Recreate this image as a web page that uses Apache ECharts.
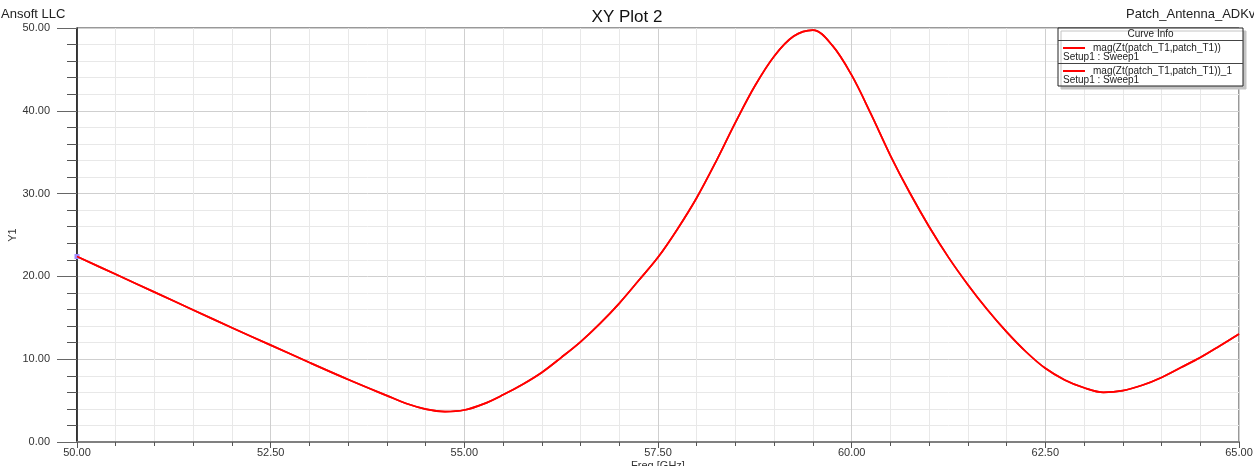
<!DOCTYPE html>
<html>
<head>
<meta charset="utf-8">
<title>XY Plot 2</title>
<script src="https://cdn.jsdelivr.net/npm/echarts@6/dist/echarts.min.js"></script>
<style>
  html, body { margin: 0; padding: 0; background: #fff; }
  #chart { width: 1254px; height: 466px; }
</style>
</head>
<body>
<div id="chart"></div>
<script>
// Frequency sweep (GHz) and |Zt| magnitude
const freqGHz = [
  50.0, 50.5, 51.0, 51.5, 52.0, 52.5, 53.0, 53.5, 54.0, 54.25, 54.5, 54.75,
  55.0, 55.25, 55.5, 55.75, 56.0, 56.25, 56.5, 56.75, 57.0, 57.25, 57.5, 57.75,
  58.0, 58.25, 58.5, 58.75, 59.0, 59.25, 59.5, 59.75, 60.0, 60.25, 60.5, 60.75,
  61.0, 61.25, 61.5, 61.75, 62.0, 62.25, 62.5, 62.75, 63.0, 63.25, 63.5, 63.75,
  64.0, 64.25, 64.5, 64.75, 65.0
];
const magZt = [
  22.4, 20.25, 18.1, 15.95, 13.8, 11.7, 9.6, 7.55, 5.6, 4.65, 3.98, 3.68,
  3.86, 4.6, 5.7, 6.95, 8.4, 10.2, 12.1, 14.3, 16.75, 19.5, 22.3, 25.7,
  29.5, 33.9, 38.6, 43.0, 46.6, 49.0, 49.75, 47.9, 44.3, 39.6, 34.6, 30.1,
  26.0, 22.3, 19.0, 16.0, 13.3, 10.9, 8.9, 7.5, 6.55, 6.0, 6.2, 6.85,
  7.8, 9.0, 10.2, 11.6, 13.05
];
const seriesNames = ['mag(Zt(patch_T1,patch_T1))', 'mag(Zt(patch_T1,patch_T1))_1'];
const sweepLabel = 'Setup1 : Sweep1';
const xTicks = { min: 50, max: 65, step: 2.5 };
const yTicks = { min: 0, max: 50, step: 10 };

const FONT = '"Liberation Sans", Arial, sans-serif';
const chart = echarts.init(document.getElementById('chart'), null, { renderer: 'canvas' });

function curveData(markStart) {
  return freqGHz.map((f, i) => {
    if (markStart && i === 0) {
      return { value: [f, magZt[i]], symbol: 'rect', symbolSize: 5,
               itemStyle: { color: '#a08cff' } };
    }
    return [f, magZt[i]];
  });
}

// Legend box ("Curve Info") drawn as graphics
const boxX = 1058, boxY = 28, boxW = 185, boxH = 58;
const legendGraphics = [
  { type: 'rect', shape: { x: boxX, y: boxY, width: boxW, height: boxH },
    style: { fill: '#fff', stroke: '#222', lineWidth: 1,
             shadowColor: '#c4c4c4', shadowOffsetX: 3, shadowOffsetY: 3 }, z: 100 },
  { type: 'text', x: boxX + boxW / 2, y: 34.5, z: 101,
    style: { text: 'Curve Info', font: '10px ' + FONT, fill: '#222',
             align: 'center', verticalAlign: 'middle' } },
  { type: 'line', shape: { x1: boxX, y1: 40.5, x2: boxX + boxW, y2: 40.5 },
    style: { stroke: '#444', lineWidth: 1 }, z: 101 },
  { type: 'line', shape: { x1: boxX, y1: 63.5, x2: boxX + boxW, y2: 63.5 },
    style: { stroke: '#444', lineWidth: 1 }, z: 101 }
];
seriesNames.forEach((name, k) => {
  const y0 = 48 + k * 23;
  legendGraphics.push(
    { type: 'line', shape: { x1: 1063, y1: y0, x2: 1085, y2: y0 },
      style: { stroke: '#ff0000', lineWidth: 2 }, z: 101 },
    { type: 'text', x: 1093, y: y0 + 0.5, z: 101,
      style: { text: name, font: '10px ' + FONT, fill: '#222',
               align: 'left', verticalAlign: 'middle' } },
    { type: 'text', x: 1063, y: y0 + 9.5, z: 101,
      style: { text: sweepLabel, font: '10px ' + FONT, fill: '#222',
               align: 'left', verticalAlign: 'middle' } }
  );
});

const option = {
  backgroundColor: '#ffffff',
  animation: false,
  textStyle: { fontFamily: FONT },
  grid: {
    left: 77, right: 15, top: 28, bottom: 24, containLabel: false,
    outerBoundsMode: 'none',
    show: true, borderColor: '#333', borderWidth: 1, backgroundColor: 'transparent'
  },
  title: [
    { text: 'XY Plot 2', left: 'center', top: 9, padding: 0,
      textStyle: { fontFamily: FONT, fontSize: 17, fontWeight: 'normal', color: '#111' } },
    { text: 'Ansoft LLC', left: 1, top: 8, padding: 0,
      textStyle: { fontFamily: FONT, fontSize: 13, fontWeight: 'normal', color: '#222' } },
    { text: 'Patch_Antenna_ADKv', left: 1126, top: 8, padding: 0,
      textStyle: { fontFamily: FONT, fontSize: 13, fontWeight: 'normal', color: '#222' } }
  ],
  xAxis: {
    type: 'value',
    min: xTicks.min, max: xTicks.max, interval: xTicks.step,
    name: 'Freq [GHz]', nameLocation: 'middle', nameGap: 18,
    nameMoveOverlap: false,
    nameTextStyle: { fontFamily: FONT, fontSize: 11, color: '#333', verticalAlign: 'top' },
    axisLine: { show: true, onZero: false, lineStyle: { color: '#808080', width: 2 } },
    axisTick: { show: true, length: 6, lineStyle: { color: '#555', width: 1 } },
    minorTick: { show: true, splitNumber: 5, length: 4, lineStyle: { color: '#555', width: 1 } },
    axisLabel: { margin: 5, fontSize: 11, color: '#333', fontFamily: FONT,
                 formatter: v => v.toFixed(2) },
    splitLine: { show: true, lineStyle: { color: '#cfcfcf', width: 1 } },
    minorSplitLine: { show: true, lineStyle: { color: '#e8e8e8', width: 1 } }
  },
  yAxis: {
    type: 'value',
    min: yTicks.min, max: yTicks.max, interval: yTicks.step,
    name: 'Y1', nameLocation: 'middle', nameGap: 59, nameRotate: 90,
    nameMoveOverlap: false,
    nameTextStyle: { fontFamily: FONT, fontSize: 11, color: '#333' },
    axisLine: { show: true, onZero: false, lineStyle: { color: '#111', width: 1.5 } },
    axisTick: { show: true, length: 20, lineStyle: { color: '#666', width: 1 } },
    minorTick: { show: true, splitNumber: 5, length: 10, lineStyle: { color: '#555', width: 1 } },
    axisLabel: { margin: 27, fontSize: 11, color: '#333', fontFamily: FONT,
                 formatter: v => v.toFixed(2) },
    splitLine: { show: true, lineStyle: { color: '#cfcfcf', width: 1 } },
    minorSplitLine: { show: true, lineStyle: { color: '#e8e8e8', width: 1 } }
  },
  series: seriesNames.map((name, k) => ({
    name: name,
    type: 'line',
    data: curveData(k === 0),
    smooth: 0.35,
    showSymbol: k === 0,
    symbol: 'none',
    lineStyle: { color: '#ff0000', width: 1.7 },
    itemStyle: { color: '#ff0000' },
    z: 3 + k
  })),
  graphic: legendGraphics
};

chart.setOption(option);
</script>
</body>
</html>
